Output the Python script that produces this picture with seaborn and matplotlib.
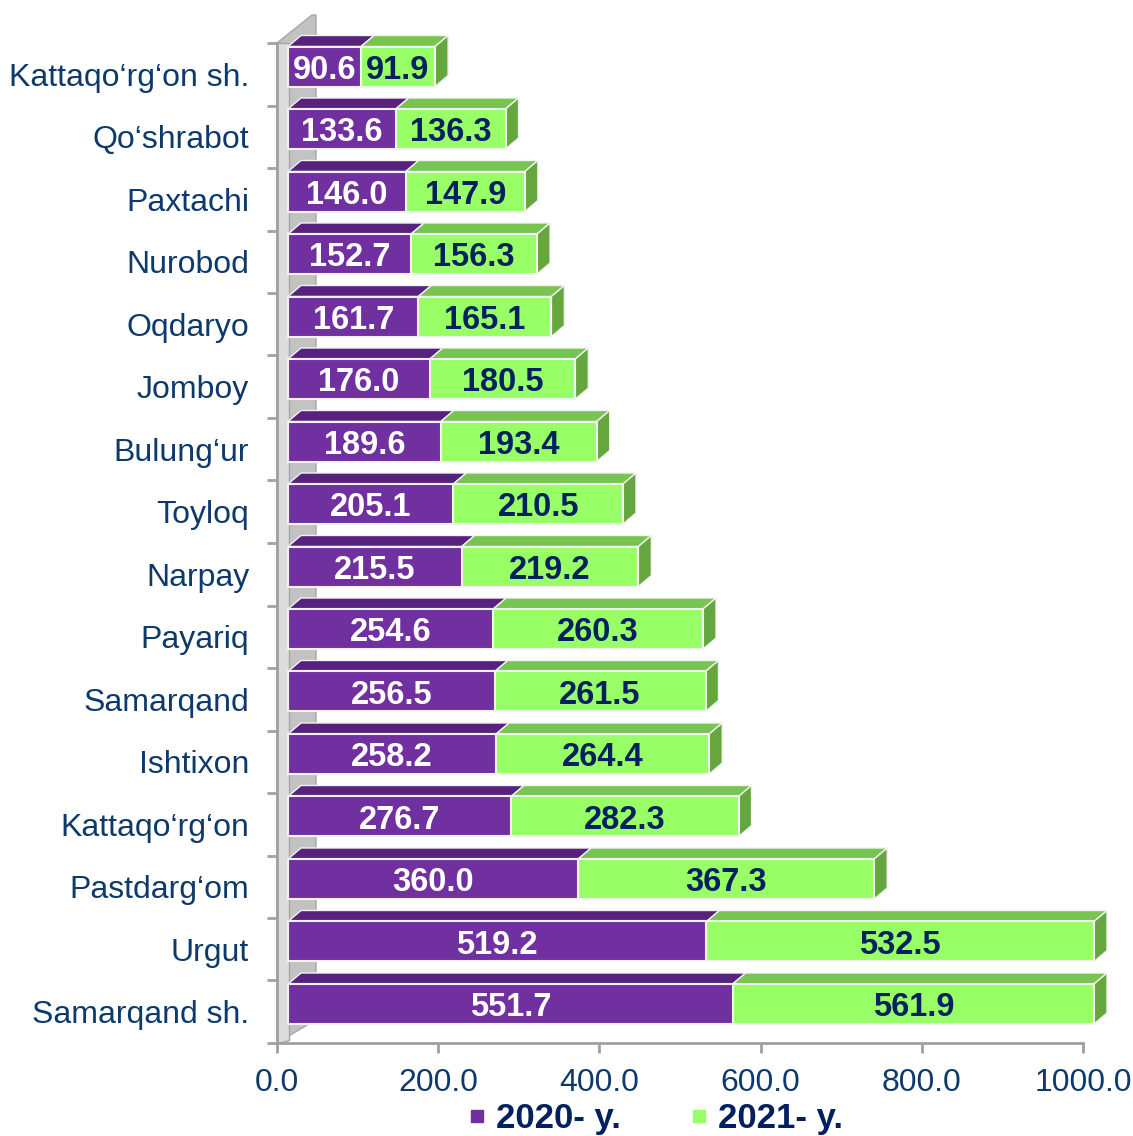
import matplotlib
matplotlib.use("Agg")
import matplotlib.pyplot as plt
from matplotlib.patches import Polygon
from matplotlib.lines import Line2D
import numpy as np
import pandas as pd
import seaborn as sns

# Data
regions = ["Kattaqo‘rg‘on sh.", "Qo‘shrabot", "Paxtachi", "Nurobod", "Oqdaryo",
           "Jomboy", "Bulung‘ur", "Toyloq", "Narpay", "Payariq", "Samarqand",
           "Ishtixon", "Kattaqo‘rg‘on", "Pastdarg‘om", "Urgut", "Samarqand sh."]
y2020 = [90.6, 133.6, 146.0, 152.7, 161.7, 176.0, 189.6, 205.1, 215.5,
         254.6, 256.5, 258.2, 276.7, 360.0, 519.2, 551.7]
y2021 = [91.9, 136.3, 147.9, 156.3, 165.1, 180.5, 193.4, 210.5, 219.2,
         260.3, 261.5, 264.4, 282.3, 367.3, 532.5, 561.9]
xticks = [0, 200, 400, 600, 800, 1000]
series_names = ["2020- y.", "2021- y."]

XMAX = 1000  # axis maximum, bars get cut there like in the original

df = pd.DataFrame({"region": regions, "y2020": y2020, "y2021": y2021})
df["start2021"] = np.minimum(df["y2020"], XMAX)
df["total"] = np.minimum(df["y2020"] + df["y2021"], XMAX)

PURPLE = "#7030A0"
PURPLE_TOP = "#56227E"
GREEN = "#99FF66"
GREEN_TOP = "#77C550"
GREEN_SIDE = "#66A63E"
NAVY = "#0D3A6B"
DARK = "#002060"
EDGE = "#F2F2F2"

plt.rcParams["font.family"] = ["Liberation Sans", "DejaVu Sans"]

W, H = 1133, 1136
fig = plt.figure(figsize=(W / 100, H / 100), dpi=100)

# axes placed in pixel space so the projection offsets are easy to control
L, R, T, B = 262, 1125, 8, 1043
ax = fig.add_axes([L / W, (H - B) / H, (R - L) / W, (B - T) / H])

SX = 0.806          # px per value unit
X0 = 288            # px of value 0 on the front faces
Y0, STEP = 66.5, 62.5


def px2x(p):
    return (p - X0) / SX


def px2y(p):
    return (p - Y0) / STEP


bar_h = 40 / STEP
dx = 13 / SX
dy = 11 / STEP

# back wall (3D look)
wall = Polygon([(px2x(277), px2y(1043)), (px2x(277), px2y(43)), (px2x(312), px2y(15)),
                (px2x(316), px2y(15)), (px2x(316), px2y(1020)), (px2x(302), px2y(1028))],
               closed=True, facecolor="#C2C2C2", edgecolor="#A6A6A6", lw=1, zorder=0.5)
ax.add_patch(wall)
strip = Polygon([(px2x(277), px2y(1043)), (px2x(277), px2y(43)), (px2x(289), px2y(43)),
                 (px2x(289), px2y(1040))],
                closed=True, facecolor="#DCDCDC", edgecolor="#A6A6A6", lw=1, zorder=0.6)
ax.add_patch(strip)

# front faces
sns.barplot(data=df, y="region", x="total", color=GREEN, orient="h", width=bar_h,
            edgecolor=EDGE, linewidth=1.5, saturation=1, ax=ax, zorder=2)
sns.barplot(data=df, y="region", x="y2020", color=PURPLE, orient="h", width=bar_h,
            edgecolor=EDGE, linewidth=1.5, saturation=1, ax=ax, zorder=2)

# top and side faces
for i, row in df.iterrows():
    yt = i - bar_h / 2
    yb = i + bar_h / 2
    a, b = 0, row["start2021"]
    ax.add_patch(Polygon([(a, yt), (b, yt), (b + dx, yt - dy), (a + dx, yt - dy)],
                         facecolor=PURPLE_TOP, edgecolor=EDGE, lw=1, zorder=1.5))
    c = row["total"]
    ax.add_patch(Polygon([(b, yt), (c, yt), (c + dx, yt - dy), (b + dx, yt - dy)],
                         facecolor=GREEN_TOP, edgecolor=EDGE, lw=1, zorder=1.5))
    ax.add_patch(Polygon([(c, yt), (c + dx, yt - dy), (c + dx, yb - dy), (c, yb)],
                         facecolor=GREEN_SIDE, edgecolor=EDGE, lw=1, zorder=1.5))
    # value labels, centred in the visible part of each segment
    ax.text(b / 2, i + 0.06, f"{row['y2020']:.1f}", color="white", fontsize=23.5,
            fontweight="bold", ha="center", va="center", zorder=3)
    ax.text((b + c) / 2, i + 0.06, f"{row['y2021']:.1f}", color=DARK, fontsize=23.5,
            fontweight="bold", ha="center", va="center", zorder=3)

ax.set_xlim(px2x(L), px2x(R))
ax.set_ylim(px2y(B), px2y(T))

# axes / ticks
x_axis0 = px2x(277)
ax.set_xticks([v + x_axis0 for v in xticks])
ax.set_xticklabels([f"{v:.1f}" for v in xticks])
bounds = [px2y(43) + k for k in range(len(regions) + 1)]
ax.set_yticks([b + 0.5 for b in bounds[:-1]])
ax.set_yticklabels(regions)
ax.set_yticks(bounds, minor=True)
ax.set_xlabel("")
ax.set_ylabel("")

for s in ["top", "right"]:
    ax.spines[s].set_visible(False)
ax.spines["left"].set_position(("data", x_axis0))
ax.spines["left"].set_bounds(bounds[0], bounds[-1])
ax.spines["bottom"].set_bounds(x_axis0, x_axis0 + XMAX)
for s in ["left", "bottom"]:
    ax.spines[s].set_color("#A0A0A0")
    ax.spines[s].set_linewidth(2)
    ax.spines[s].set_zorder(0.7)

ax.tick_params(axis="x", length=7, width=2, color="#A0A0A0", labelsize=23,
               labelcolor=NAVY, pad=11)
ax.tick_params(axis="y", which="major", length=0, labelsize=23, labelcolor=NAVY, pad=20)
ax.tick_params(axis="y", which="minor", length=7, width=2, color="#A0A0A0")
ax.patch.set_alpha(0)

handles = [Line2D([], [], ls="none", marker="s", markersize=8.5, color=PURPLE),
           Line2D([], [], ls="none", marker="s", markersize=8.5, color=GREEN)]
leg = fig.legend(handles, series_names, loc="center", bbox_to_anchor=(0.579, 0.0155),
                 ncol=2, frameon=False, handlelength=0.5, handletextpad=0.3,
                 columnspacing=2.0, prop={"size": 25, "weight": "bold"})
for t in leg.get_texts():
    t.set_color(DARK)

fig.savefig("out.png", dpi=100)
